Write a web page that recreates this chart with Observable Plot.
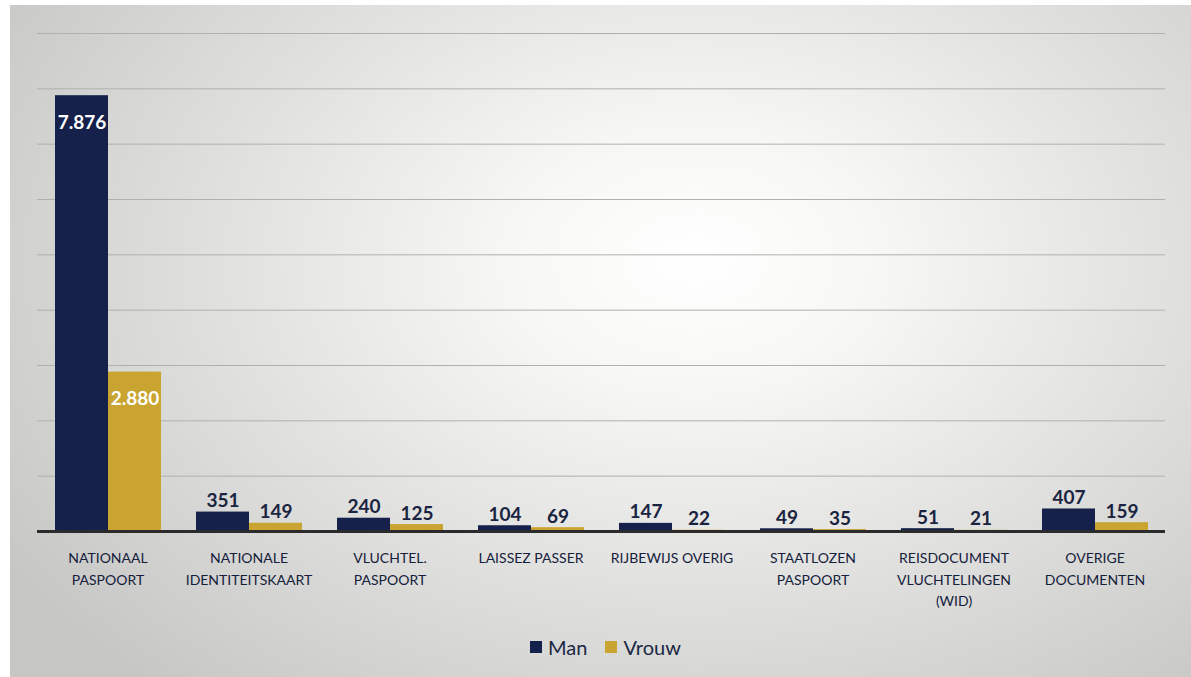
<!DOCTYPE html>
<html>
<head>
<meta charset="utf-8">
<script src="https://cdn.jsdelivr.net/npm/d3@7"></script>
<script src="https://cdn.jsdelivr.net/npm/@observablehq/plot@0.6"></script>
<style>
  html, body { margin: 0; padding: 0; background: #ffffff; }
  #panel {
    position: absolute; left: 10px; top: 5px; width: 1181px; height: 672px;
    background: radial-gradient(ellipse 70% 85% at 58% 38%, #ffffff 0%, #f7f7f5 22%, #e2e2e0 55%, #c6c6c4 100%);
    font-family: Lato, "Open Sans", sans-serif;
  }
  #legend {
    display: flex; justify-content: center; align-items: center; gap: 18px;
    margin-top: 10px; margin-left: 10px; font-size: 20px; color: #1b2844; line-height: 24px;
  }
  #legend .item { display: flex; align-items: center; gap: 6px; }
  #legend .sw { width: 12px; height: 12px; display: inline-block; }
</style>
</head>
<body>
<div id="panel"><div id="chart"></div><div id="legend"></div></div>
<script>
const categories = [
  "NATIONAAL\nPASPOORT",
  "NATIONALE\nIDENTITEITSKAART",
  "VLUCHTEL.\nPASPOORT",
  "LAISSEZ PASSER",
  "RIJBEWIJS OVERIG",
  "STAATLOZEN\nPASPOORT",
  "REISDOCUMENT\nVLUCHTELINGEN\n(WID)",
  "OVERIGE\nDOCUMENTEN"
];
const series = ["Man", "Vrouw"];
const manValues = [7876, 351, 240, 104, 147, 49, 51, 407];
const vrouwValues = [2880, 149, 125, 69, 22, 35, 21, 159];
const gridValues = [1000, 2000, 3000, 4000, 5000, 6000, 7000, 8000, 9000];
const colors = ["#15214a", "#c9a430"];

const rows = [];
categories.forEach((c, i) => {
  rows.push({cat: c, series: "Man", value: manValues[i]});
  rows.push({cat: c, series: "Vrouw", value: vrouwValues[i]});
});

const nl = d3.formatLocale({decimal: ",", thousands: ".", grouping: [3], currency: ["€", ""]});
const fmt = nl.format(",d");

const chart = Plot.plot({
  width: 1181,
  height: 620,
  marginTop: 28,
  marginBottom: 94,
  marginLeft: 26,
  marginRight: 26,
  style: {background: "transparent", fontFamily: "Lato, 'Open Sans', sans-serif"},
  fx: {domain: categories, padding: 0, label: null},
  x: {domain: series, paddingInner: 0, paddingOuter: 0.33, axis: null},
  y: {domain: [0, 9000], axis: null},
  color: {domain: series, range: colors},
  marks: [
    Plot.ruleY(gridValues, {stroke: "#b0b0ae", strokeWidth: 1}),
    Plot.barY(rows, {fx: "cat", x: "series", y: "value", fill: "series"}),
    Plot.ruleY([0], {stroke: "#2b2b2b", strokeWidth: 3}),
    Plot.text(rows.filter(d => d.value < 1000), {
      fx: "cat", x: "series", y: "value", text: d => fmt(d.value),
      lineAnchor: "bottom", dy: -5, fontSize: 19, fontWeight: "bold", fill: "#1a2440"
    }),
    Plot.text(rows.filter(d => d.value >= 1000), {
      fx: "cat", x: "series", y: "value", text: d => fmt(d.value),
      lineAnchor: "middle", dy: 27, fontSize: 19, fontWeight: "bold", fill: "#ffffff"
    }),
    Plot.axisFx({
      anchor: "bottom", tickSize: 0, tickPadding: 16, label: null,
      fontSize: 14, lineHeight: 1.55, fill: "#14203c"
    })
  ]
});
document.getElementById("chart").appendChild(chart);

const legend = document.getElementById("legend");
series.forEach((s, i) => {
  const item = document.createElement("div");
  item.className = "item";
  const sw = document.createElement("span");
  sw.className = "sw";
  sw.style.background = colors[i];
  const label = document.createElement("span");
  label.textContent = s;
  item.appendChild(sw);
  item.appendChild(label);
  legend.appendChild(item);
});
</script>
</body>
</html>
